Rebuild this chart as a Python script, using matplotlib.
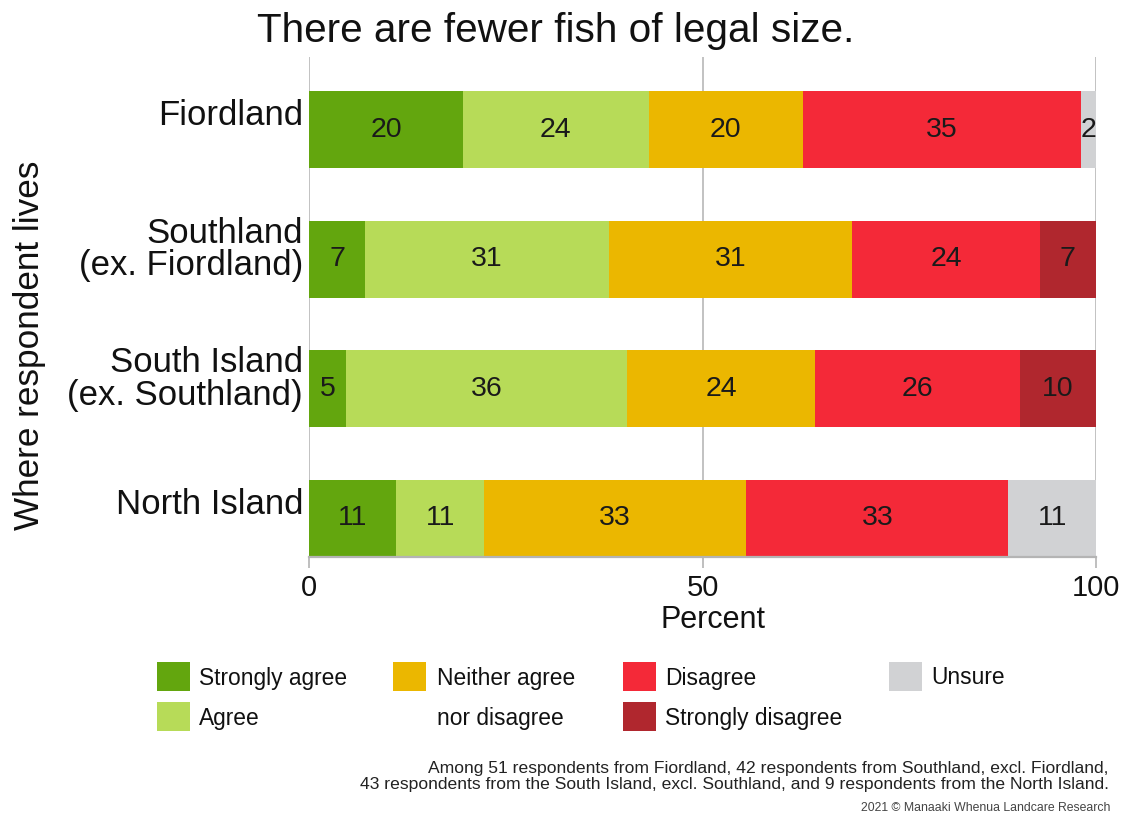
import matplotlib
matplotlib.use('Agg')
import matplotlib.pyplot as plt
from matplotlib.patches import Rectangle
import matplotlib.transforms as mtransforms

plt.rcParams['font.family'] = ['Liberation Sans', 'DejaVu Sans']

categories = ['Fiordland', 'Southland\n(ex. Fiordland)', 'South Island\n(ex. Southland)', 'North Island']
responses = ['Strongly agree', 'Agree', 'Neither agree\nnor disagree', 'Disagree', 'Strongly disagree', 'Unsure']
strongly_agree = [19.61, 7.14, 4.7, 11.11]
agree = [23.53, 30.95, 35.7, 11.11]
neither = [19.61, 30.95, 23.9, 33.33]
disagree = [35.29, 23.81, 26.0, 33.33]
strongly_disagree = [0.0, 7.14, 9.7, 0.0]
unsure = [1.96, 0.0, 0.0, 11.11]
series = [strongly_agree, agree, neither, disagree, strongly_disagree, unsure]
colors = ['#63a60e', '#b7db58', '#ebb700', '#f42938', '#b0272e', '#d1d2d4']
xticks = [0, 50, 100]

W, H = 1126, 816
fig = plt.figure(figsize=(W / 100, H / 100), dpi=100)
ax = fig.add_axes([309 / W, 1 - 557 / H, (1096 - 309) / W, (557 - 57) / H])

ypos = list(range(len(categories)))
left = [0.0] * len(categories)
for vals, col in zip(series, colors):
    ax.barh(ypos, vals, left=left, height=0.595, color=col, zorder=2)
    for i, v in enumerate(vals):
        if v > 0:
            ax.text(left[i] + v / 2, ypos[i], f"{v:.0f}", ha='center', va='center',
                    fontsize=20.5, color='#1a1a1a', zorder=3)
    left = [l + v for l, v in zip(left, vals)]

ax.set_xlim(0, 100)
ax.set_ylim(3.30, -0.564)
ax.set_xticks(xticks)
ax.set_xticklabels([str(t) for t in xticks], fontsize=21)
ax.set_yticks([])
ax.grid(axis='x', color='#b8b8b8', lw=1.2, zorder=0)
ax.set_axisbelow(True)
for s in ['top', 'left', 'right']:
    ax.spines[s].set_visible(False)
ax.spines['bottom'].set_color('#b4b4b4')
ax.spines['bottom'].set_linewidth(1.6)
ax.tick_params(axis='x', length=8, width=1.2, color='#b4b4b4', pad=4, labelcolor='#111111')

# category labels (shifted slightly upward, as in the reference)
trans = mtransforms.blended_transform_factory(ax.transAxes, ax.transData)
for i, c in enumerate(categories):
    dy = 10 if '\n' in c else 14
    off = mtransforms.ScaledTranslation(-6 / 100, dy / 100, fig.dpi_scale_trans)
    ax.text(0, ypos[i], c, transform=trans + off, ha='right', va='center',
            fontsize=25, linespacing=0.98, color='#111111')

fig.text(30 / W, 1 - 345 / H, 'Where respondent lives', rotation=90, ha='center', va='center',
         fontsize=25.3, color='#111111')
fig.text(713 / W, 1 - 620 / H, 'Percent', ha='center', va='center', fontsize=22, color='#111111')
fig.text(556 / W, 1 - 31 / H, 'There are fewer fish of legal size.', ha='center', va='center',
         fontsize=29.2, color='#111111')

# legend
leg_pos = [(157, 662), (157, 702), (393, 662), (623, 662), (623, 702), (889, 662)]
for (lx, ly), lab, col in zip(leg_pos, responses, colors):
    fig.patches.append(Rectangle((lx / W, 1 - (ly + 29) / H), 33 / W, 29 / H,
                                 transform=fig.transFigure, facecolor=col, edgecolor='none'))
    if '\n' in lab:
        l1, l2 = lab.split('\n')
        fig.text((lx + 44) / W, 1 - (ly + 16) / H, l1, ha='left', va='center', fontsize=16.4, color='#111111')
        fig.text((lx + 44) / W, 1 - (ly + 57) / H, l2, ha='left', va='center', fontsize=16.4, color='#111111')
    else:
        fig.text((lx + 42) / W, 1 - (ly + 16) / H, lab, ha='left', va='center', fontsize=16.4, color='#111111')

fig.text(1109 / W, 1 - 768 / H,
         'Among 51 respondents from Fiordland, 42 respondents from Southland, excl. Fiordland,',
         ha='right', va='center', fontsize=12.6, color='#222222')
fig.text(1109 / W, 1 - 785 / H,
         '43 respondents from the South Island, excl. Southland, and 9 respondents from the North Island.',
         ha='right', va='center', fontsize=12.6, color='#222222')
fig.text(1110 / W, 1 - 808 / H, '2021 \u00a9 Manaaki Whenua Landcare Research', ha='right', va='center',
         fontsize=8.8, color='#444444')

fig.savefig('out.png', dpi=100, facecolor='white')
